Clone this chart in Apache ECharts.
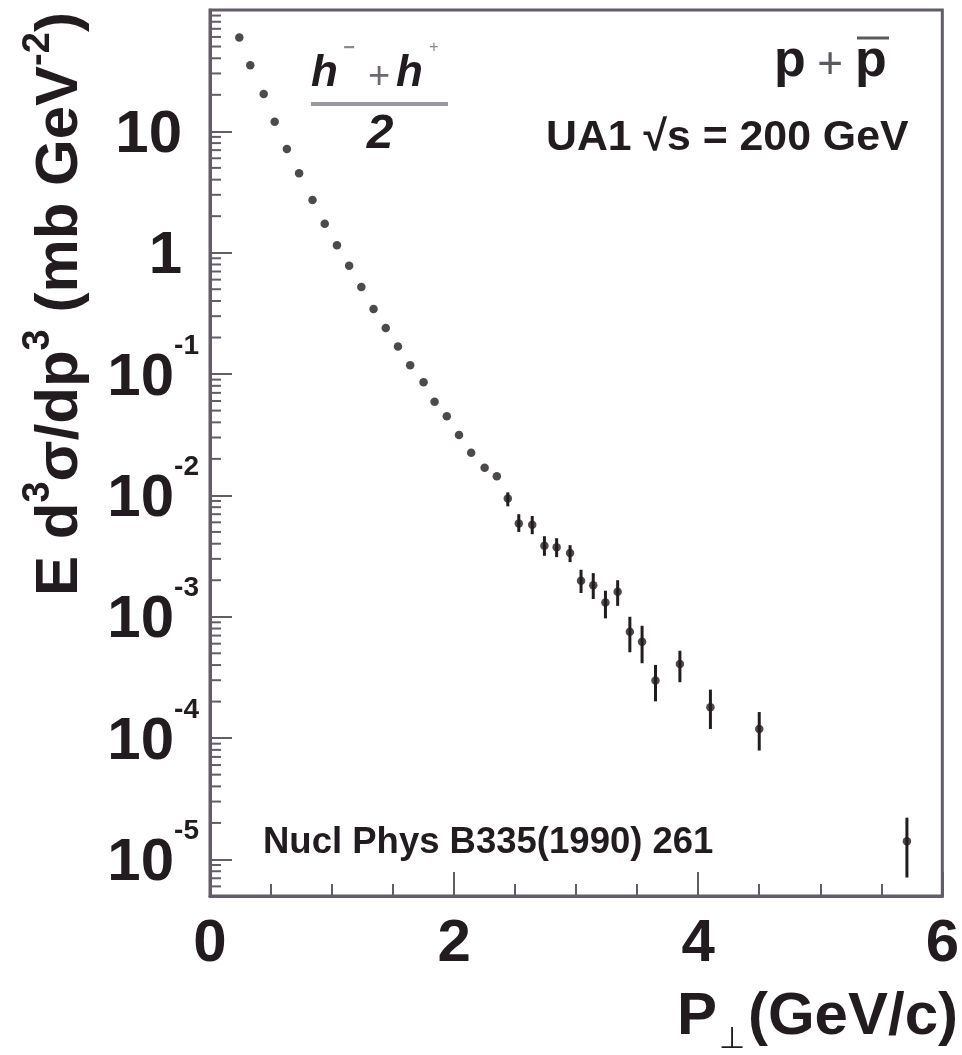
<!DOCTYPE html>
<html><head><meta charset="utf-8">
<script src="https://cdn.jsdelivr.net/npm/echarts@6/dist/echarts.min.js"></script>
<style>html,body{margin:0;padding:0;background:#fff}#c{width:962px;height:1055px}</style>
</head><body><div id="c"></div>
<script>
// ---- data ----
const pT = [0.24, 0.33, 0.44, 0.53, 0.63, 0.73, 0.84, 0.94, 1.04, 1.14, 1.24, 1.34, 1.44, 1.54, 1.64, 1.75,
  1.84, 1.94, 2.04, 2.14, 2.25, 2.35, 2.44, 2.53, 2.64, 2.74, 2.84, 2.95, 3.04, 3.14, 3.24, 3.34,
  3.44, 3.54, 3.65, 3.85, 4.10, 4.50, 5.71];
const sigma = [59.3, 35.1, 20.3, 12.0, 7.15, 4.52, 2.72, 1.73, 1.15, 0.780, 0.521, 0.344, 0.240, 0.169, 0.118, 0.0857,
  0.0591, 0.0450, 0.0314, 0.0225, 0.0169, 0.0144, 0.00941, 0.00586, 0.00573, 0.00384, 0.00374, 0.00336, 0.00198, 0.00182, 0.00131, 0.00161,
  7.53e-4, 6.22e-4, 2.98e-4, 4.08e-4, 1.80e-4, 1.19e-4, 1.41e-5];
const errLow = [null, null, null, null, null, null, null, null, null, null, null, null, null, null, null, null,
  null, null, null, null, null, null, 8.13e-3, 5.0e-3, 4.79e-3, 3.18e-3, 3.10e-3, 2.82e-3, 1.57e-3, 1.40e-3, 9.7e-4, 1.23e-3,
  5.10e-4, 4.14e-4, 2.01e-4, 2.89e-4, 1.19e-4, 7.9e-5, 7.1e-6];
const errHigh = [null, null, null, null, null, null, null, null, null, null, null, null, null, null, null, null,
  null, null, null, null, null, null, 1.06e-2, 7.0e-3, 6.77e-3, 4.61e-3, 4.44e-3, 3.89e-3, 2.44e-3, 2.29e-3, 1.64e-3, 2.00e-3,
  1.0e-3, 8.43e-4, 4.01e-4, 5.25e-4, 2.51e-4, 1.64e-4, 2.21e-5];
const xMin = 0, xMax = 6, xInterval = 2;
const yMin = 5e-6, yMax = 100;
const minorMultipliers = [2, 3, 4, 5, 6, 7, 8, 9];
const minorDecades = [-6, -5, -4, -3, -2, -1, 0, 1];

// ---- styling ----
const FONT = '"Liberation Sans", Arial, Helvetica, sans-serif';
const INK = '#221b20';
const AXIS = '#625d66';

const points = pT.map((x, i) => [x, sigma[i]]);
const bars = [];
pT.forEach((x, i) => { if (errLow[i] != null) bars.push([x, errLow[i], errHigh[i]]); });
const minorTicks = [];
minorDecades.forEach(d => minorMultipliers.forEach(k => {
  const v = k * Math.pow(10, d);
  if (v > yMin * 1.0001 && v < yMax) minorTicks.push([xMin, v]);
}));

const chart = echarts.init(document.getElementById('c'), null, { renderer: 'canvas' });
chart.setOption({
  animation: false,
  backgroundColor: '#ffffff',
  grid: { left: 210, top: 10, width: 742, height: 886, show: true, borderColor: AXIS, borderWidth: 3, backgroundColor: 'transparent' },
  xAxis: {
    type: 'value', min: xMin, max: xMax, interval: xInterval,
    axisLine: { show: true, lineStyle: { color: AXIS, width: 3 } },
    axisTick: { show: true, inside: true, length: 24, lineStyle: { color: AXIS, width: 2 } },
    minorTick: { show: true, splitNumber: 4, length: 12, lineStyle: { color: AXIS, width: 2 } },
    splitLine: { show: false }, minorSplitLine: { show: false },
    axisLabel: { margin: 18, fontSize: 60, fontWeight: 'bold', fontFamily: FONT, color: INK }
  },
  yAxis: {
    type: 'log', logBase: 10, min: yMin, max: yMax,
    axisLine: { show: true, lineStyle: { color: AXIS, width: 3 } },
    axisTick: { show: true, inside: true, length: 22, lineStyle: { color: AXIS, width: 2 } },
    splitLine: { show: false },
    axisLabel: {
      margin: 11, color: INK,
      formatter: function (v) {
        const e = Math.round(Math.log10(v));
        if (Math.abs(v / Math.pow(10, e) - 1) > 1e-6) return '';
        if (e >= 2) return '';
        if (e === 1) return '{p|10}';
        if (e === 0) return '{p|1}';
        return '{b|10}{s|-' + (-e) + '}';
      },
      rich: {
        p: { fontSize: 60, fontWeight: 'bold', fontFamily: FONT, color: INK, height: 60, padding: [8, 17, 0, 0] },
        b: { fontSize: 60, fontWeight: 'bold', fontFamily: FONT, color: INK, height: 60, padding: [0, 0, 8, 0], verticalAlign: 'bottom' },
        s: { fontSize: 28, fontWeight: 'bold', fontFamily: FONT, color: INK, height: 28, padding: [0, 0, 56, 0], verticalAlign: 'top' }
      }
    }
  },
  series: [
    {
      type: 'custom', name: 'yMinorTicks', data: minorTicks, silent: true, z: 1,
      encode: { x: 0, y: 1 },
      renderItem: function (params, api) {
        const p = api.coord([api.value(0), api.value(1)]);
        return { type: 'line', shape: { x1: p[0], y1: p[1], x2: p[0] + 11, y2: p[1] }, style: { stroke: AXIS, lineWidth: 2 } };
      }
    },
    {
      type: 'custom', name: 'errors', data: bars, silent: true, z: 2,
      encode: { x: 0, y: [1, 2] },
      renderItem: function (params, api) {
        const lo = api.coord([api.value(0), api.value(1)]);
        const hi = api.coord([api.value(0), api.value(2)]);
        return { type: 'line', shape: { x1: lo[0], y1: lo[1], x2: hi[0], y2: hi[1] }, style: { stroke: INK, lineWidth: 3 } };
      }
    },
    {
      type: 'scatter', name: 'h', data: points, symbol: 'circle', symbolSize: 8.5, z: 3,
      itemStyle: { color: INK }
    }
  ],
  graphic: [
    { type: 'text', x: 55, y: 304, rotation: Math.PI / 2,
      style: { text: '{t|E d}{u|3}{t|σ/dp}{u|3}{t| (mb GeV}{u|-2}{t|)}', align: 'center', verticalAlign: 'middle',
        rich: {
          t: { fontSize: 60, fontWeight: 'bold', fontFamily: FONT, fill: INK, height: 60, verticalAlign: 'bottom' },
          u: { fontSize: 38, fontWeight: 'bold', fontFamily: FONT, fill: INK, height: 38, padding: [0, 0, 33, 0], verticalAlign: 'top' }
        } } },
    { type: 'text', x: 958, y: 1021,
      style: { text: '{t|P}{s|⊥}{t|(GeV/c)}', align: 'right', verticalAlign: 'middle',
        rich: {
          t: { fontSize: 60, fontWeight: 'bold', fontFamily: FONT, fill: INK, height: 60, verticalAlign: 'top' },
          s: { fontSize: 30, fontFamily: FONT, fill: INK, height: 30, padding: [38, 3, 0, 2], verticalAlign: 'top' }
        } } },
    // h- + h+ over 2
    { type: 'text', x: 311, y: 74, style: { text: 'h', font: 'italic bold 44px ' + FONT, fill: INK, align: 'left', verticalAlign: 'middle' } },
    { type: 'text', x: 349, y: 48, style: { text: '−', font: 'bold 20px ' + FONT, fill: '#8a858c', align: 'center', verticalAlign: 'middle' } },
    { type: 'text', x: 379, y: 78, style: { text: '+', font: '38px ' + FONT, fill: '#6e6870', align: 'center', verticalAlign: 'middle' } },
    { type: 'text', x: 396, y: 74, style: { text: 'h', font: 'italic bold 44px ' + FONT, fill: INK, align: 'left', verticalAlign: 'middle' } },
    { type: 'text', x: 434, y: 48, style: { text: '+', font: '16px ' + FONT, fill: '#8a858c', align: 'center', verticalAlign: 'middle' } },
    { type: 'line', shape: { x1: 311, y1: 104, x2: 448, y2: 104 }, style: { stroke: '#9b97a0', lineWidth: 4 } },
    { type: 'text', x: 380, y: 135, style: { text: '2', font: 'italic bold 48px ' + FONT, fill: INK, align: 'center', verticalAlign: 'middle' } },
    // p + pbar
    { type: 'text', x: 774, y: 62, style: { text: 'p', font: 'bold 52px ' + FONT, fill: INK, align: 'left', verticalAlign: 'middle' } },
    { type: 'text', x: 830, y: 66, style: { text: '+', font: '44px ' + FONT, fill: '#5d5860', align: 'center', verticalAlign: 'middle' } },
    { type: 'text', x: 855, y: 62, style: { text: 'p', font: 'bold 52px ' + FONT, fill: INK, align: 'left', verticalAlign: 'middle' } },
    { type: 'line', shape: { x1: 857, y1: 38, x2: 889, y2: 38 }, style: { stroke: '#5d5860', lineWidth: 3 } },
    { type: 'text', x: 546, y: 138, style: { text: 'UA1 √s = 200 GeV', font: 'bold 42.8px ' + FONT, fill: INK, align: 'left', verticalAlign: 'middle' } },
    { type: 'text', x: 263, y: 843, style: { text: 'Nucl Phys B335(1990) 261', font: 'bold 36.5px ' + FONT, fill: INK, align: 'left', verticalAlign: 'middle' } }
  ]
});
</script>
</body></html>
